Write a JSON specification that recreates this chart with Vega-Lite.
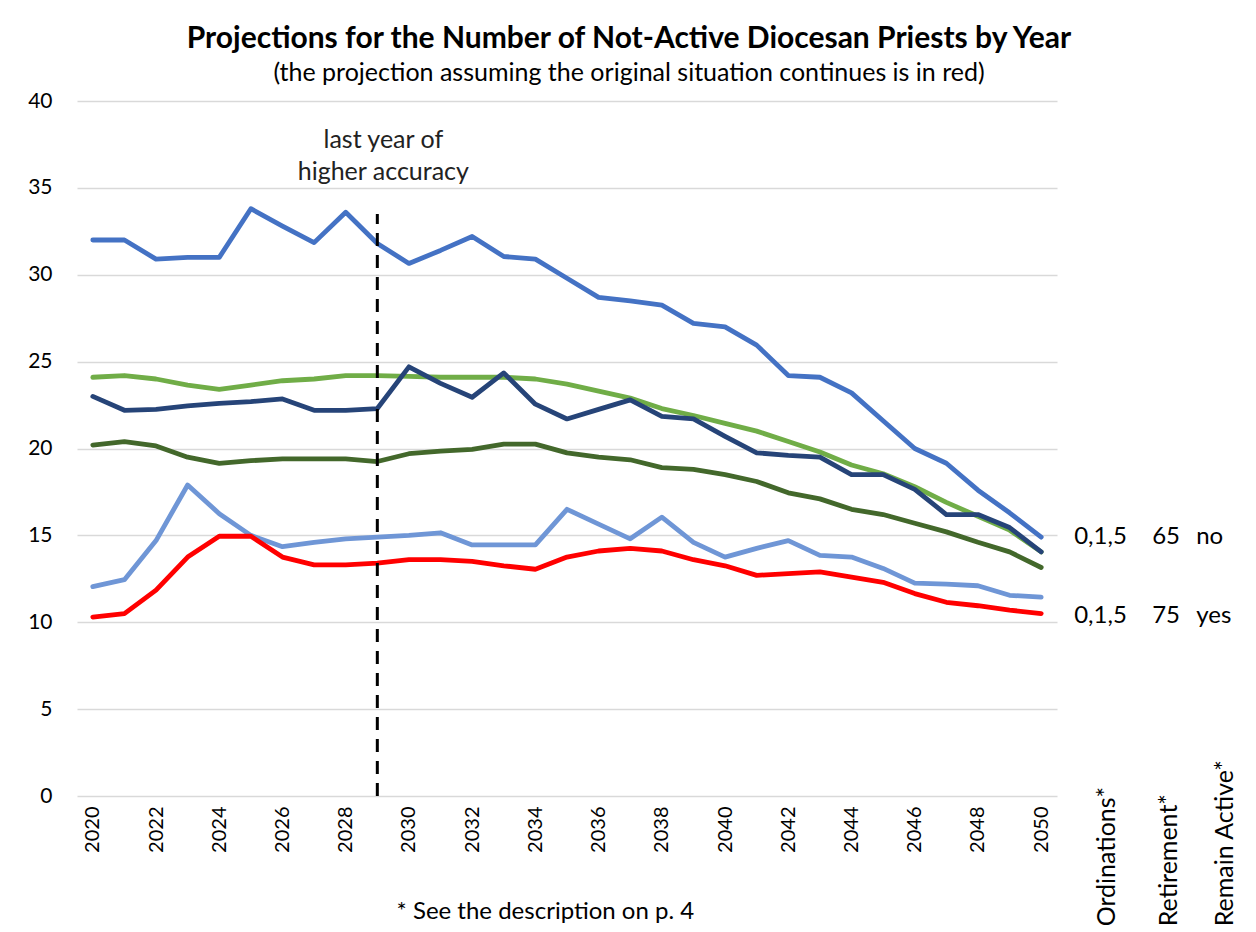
{
  "$schema": "https://vega.github.io/schema/vega-lite/v6.json",
  "autosize": "none",
  "width": 980,
  "height": 695,
  "padding": {"left": 77, "top": 101, "right": 199, "bottom": 136},
  "background": "white",
  "config": {
    "font": "Lato",
    "view": {"stroke": null},
    "title": {"font": "Lato", "color": "#000000"}
  },
  "title": {
    "text": "Projections for the Number of Not-Active Diocesan Priests by Year",
    "subtitle": "(the projection assuming the original situation continues is in red)",
    "anchor": "middle",
    "frame": "group",
    "dx": 62,
    "fontSize": 30,
    "fontWeight": "bold",
    "subtitleFontSize": 25,
    "subtitleColor": "#000000",
    "subtitleFont": "Lato",
    "subtitlePadding": 7,
    "offset": 4
  },
  "datasets": {
    "main": [
      {"year":2020,"series":"A","value":32.0},{"year":2021,"series":"A","value":32.0},{"year":2022,"series":"A","value":30.9},{"year":2023,"series":"A","value":31.0},{"year":2024,"series":"A","value":31.0},{"year":2025,"series":"A","value":33.8},{"year":2026,"series":"A","value":32.8},{"year":2027,"series":"A","value":31.85},{"year":2028,"series":"A","value":33.6},{"year":2029,"series":"A","value":31.8},{"year":2030,"series":"A","value":30.65},{"year":2031,"series":"A","value":31.4},{"year":2032,"series":"A","value":32.2},{"year":2033,"series":"A","value":31.05},{"year":2034,"series":"A","value":30.9},{"year":2035,"series":"A","value":29.8},{"year":2036,"series":"A","value":28.7},{"year":2037,"series":"A","value":28.5},{"year":2038,"series":"A","value":28.25},{"year":2039,"series":"A","value":27.2},{"year":2040,"series":"A","value":27.0},{"year":2041,"series":"A","value":25.95},{"year":2042,"series":"A","value":24.2},{"year":2043,"series":"A","value":24.1},{"year":2044,"series":"A","value":23.2},{"year":2045,"series":"A","value":21.6},{"year":2046,"series":"A","value":20.0},{"year":2047,"series":"A","value":19.15},{"year":2048,"series":"A","value":17.6},{"year":2049,"series":"A","value":16.3},{"year":2050,"series":"A","value":14.9},
      {"year":2020,"series":"B","value":24.1},{"year":2021,"series":"B","value":24.2},{"year":2022,"series":"B","value":24.0},{"year":2023,"series":"B","value":23.65},{"year":2024,"series":"B","value":23.4},{"year":2025,"series":"B","value":23.65},{"year":2026,"series":"B","value":23.9},{"year":2027,"series":"B","value":24.0},{"year":2028,"series":"B","value":24.2},{"year":2029,"series":"B","value":24.2},{"year":2030,"series":"B","value":24.15},{"year":2031,"series":"B","value":24.1},{"year":2032,"series":"B","value":24.1},{"year":2033,"series":"B","value":24.1},{"year":2034,"series":"B","value":24.0},{"year":2035,"series":"B","value":23.7},{"year":2036,"series":"B","value":23.3},{"year":2037,"series":"B","value":22.9},{"year":2038,"series":"B","value":22.3},{"year":2039,"series":"B","value":21.9},{"year":2040,"series":"B","value":21.45},{"year":2041,"series":"B","value":21.0},{"year":2042,"series":"B","value":20.4},{"year":2043,"series":"B","value":19.8},{"year":2044,"series":"B","value":19.05},{"year":2045,"series":"B","value":18.55},{"year":2046,"series":"B","value":17.8},{"year":2047,"series":"B","value":16.9},{"year":2048,"series":"B","value":16.1},{"year":2049,"series":"B","value":15.3},{"year":2050,"series":"B","value":14.05},
      {"year":2020,"series":"D","value":20.2},{"year":2021,"series":"D","value":20.4},{"year":2022,"series":"D","value":20.15},{"year":2023,"series":"D","value":19.5},{"year":2024,"series":"D","value":19.15},{"year":2025,"series":"D","value":19.3},{"year":2026,"series":"D","value":19.4},{"year":2027,"series":"D","value":19.4},{"year":2028,"series":"D","value":19.4},{"year":2029,"series":"D","value":19.25},{"year":2030,"series":"D","value":19.7},{"year":2031,"series":"D","value":19.85},{"year":2032,"series":"D","value":19.95},{"year":2033,"series":"D","value":20.25},{"year":2034,"series":"D","value":20.25},{"year":2035,"series":"D","value":19.75},{"year":2036,"series":"D","value":19.5},{"year":2037,"series":"D","value":19.35},{"year":2038,"series":"D","value":18.9},{"year":2039,"series":"D","value":18.8},{"year":2040,"series":"D","value":18.5},{"year":2041,"series":"D","value":18.1},{"year":2042,"series":"D","value":17.45},{"year":2043,"series":"D","value":17.1},{"year":2044,"series":"D","value":16.5},{"year":2045,"series":"D","value":16.2},{"year":2046,"series":"D","value":15.7},{"year":2047,"series":"D","value":15.2},{"year":2048,"series":"D","value":14.6},{"year":2049,"series":"D","value":14.05},{"year":2050,"series":"D","value":13.15},
      {"year":2020,"series":"E","value":12.05},{"year":2021,"series":"E","value":12.45},{"year":2022,"series":"E","value":14.7},{"year":2023,"series":"E","value":17.9},{"year":2024,"series":"E","value":16.25},{"year":2025,"series":"E","value":15.0},{"year":2026,"series":"E","value":14.35},{"year":2027,"series":"E","value":14.6},{"year":2028,"series":"E","value":14.8},{"year":2029,"series":"E","value":14.9},{"year":2030,"series":"E","value":15.0},{"year":2031,"series":"E","value":15.15},{"year":2032,"series":"E","value":14.45},{"year":2033,"series":"E","value":14.45},{"year":2034,"series":"E","value":14.45},{"year":2035,"series":"E","value":16.5},{"year":2036,"series":"E","value":15.65},{"year":2037,"series":"E","value":14.8},{"year":2038,"series":"E","value":16.05},{"year":2039,"series":"E","value":14.6},{"year":2040,"series":"E","value":13.75},{"year":2041,"series":"E","value":14.25},{"year":2042,"series":"E","value":14.7},{"year":2043,"series":"E","value":13.85},{"year":2044,"series":"E","value":13.75},{"year":2045,"series":"E","value":13.1},{"year":2046,"series":"E","value":12.25},{"year":2047,"series":"E","value":12.2},{"year":2048,"series":"E","value":12.1},{"year":2049,"series":"E","value":11.55},{"year":2050,"series":"E","value":11.45},
      {"year":2020,"series":"C","value":23.0},{"year":2021,"series":"C","value":22.2},{"year":2022,"series":"C","value":22.25},{"year":2023,"series":"C","value":22.45},{"year":2024,"series":"C","value":22.6},{"year":2025,"series":"C","value":22.7},{"year":2026,"series":"C","value":22.85},{"year":2027,"series":"C","value":22.2},{"year":2028,"series":"C","value":22.2},{"year":2029,"series":"C","value":22.3},{"year":2030,"series":"C","value":24.7},{"year":2031,"series":"C","value":23.75},{"year":2032,"series":"C","value":22.95},{"year":2033,"series":"C","value":24.35},{"year":2034,"series":"C","value":22.55},{"year":2035,"series":"C","value":21.7},{"year":2036,"series":"C","value":22.25},{"year":2037,"series":"C","value":22.8},{"year":2038,"series":"C","value":21.85},{"year":2039,"series":"C","value":21.7},{"year":2040,"series":"C","value":20.7},{"year":2041,"series":"C","value":19.75},{"year":2042,"series":"C","value":19.6},{"year":2043,"series":"C","value":19.5},{"year":2044,"series":"C","value":18.5},{"year":2045,"series":"C","value":18.5},{"year":2046,"series":"C","value":17.65},{"year":2047,"series":"C","value":16.2},{"year":2048,"series":"C","value":16.2},{"year":2049,"series":"C","value":15.45},{"year":2050,"series":"C","value":14.05},
      {"year":2020,"series":"F","value":10.3},{"year":2021,"series":"F","value":10.5},{"year":2022,"series":"F","value":11.85},{"year":2023,"series":"F","value":13.75},{"year":2024,"series":"F","value":14.95},{"year":2025,"series":"F","value":14.95},{"year":2026,"series":"F","value":13.75},{"year":2027,"series":"F","value":13.3},{"year":2028,"series":"F","value":13.3},{"year":2029,"series":"F","value":13.4},{"year":2030,"series":"F","value":13.6},{"year":2031,"series":"F","value":13.6},{"year":2032,"series":"F","value":13.5},{"year":2033,"series":"F","value":13.25},{"year":2034,"series":"F","value":13.05},{"year":2035,"series":"F","value":13.75},{"year":2036,"series":"F","value":14.1},{"year":2037,"series":"F","value":14.25},{"year":2038,"series":"F","value":14.1},{"year":2039,"series":"F","value":13.6},{"year":2040,"series":"F","value":13.25},{"year":2041,"series":"F","value":12.7},{"year":2042,"series":"F","value":12.8},{"year":2043,"series":"F","value":12.9},{"year":2044,"series":"F","value":12.6},{"year":2045,"series":"F","value":12.3},{"year":2046,"series":"F","value":11.65},{"year":2047,"series":"F","value":11.15},{"year":2048,"series":"F","value":10.95},{"year":2049,"series":"F","value":10.7},{"year":2050,"series":"F","value":10.5}
    ],
    "marker": [{"year": 2029, "y0": 0, "y1": 33.5}],
    "note": [
      {"year": 2029, "value": 37.75, "text": "last year of"},
      {"year": 2029, "value": 35.9, "text": "higher accuracy"}
    ],
    "endlabels": [
      {"year": 2050, "value": 14.9, "col": 1, "text": "0,1,5"},
      {"year": 2050, "value": 14.9, "col": 2, "text": "65"},
      {"year": 2050, "value": 14.9, "col": 3, "text": "no"},
      {"year": 2050, "value": 10.35, "col": 1, "text": "0,1,5"},
      {"year": 2050, "value": 10.35, "col": 2, "text": "75"},
      {"year": 2050, "value": 10.35, "col": 3, "text": "yes"}
    ],
    "headers": [
      {"year": 2050, "value": -7.5, "col": 1, "text": "Ordinations*"},
      {"year": 2050, "value": -7.5, "col": 2, "text": "Retirement*"},
      {"year": 2050, "value": -7.5, "col": 3, "text": "Remain Active*"}
    ],
    "foot": [{"year": 2034, "value": -6.7, "text": "* See the description on p. 4"}]
  },
  "encoding": {
    "x": {
      "field": "year",
      "type": "ordinal",
      "scale": {"type": "point", "domain": [2020,2021,2022,2023,2024,2025,2026,2027,2028,2029,2030,2031,2032,2033,2034,2035,2036,2037,2038,2039,2040,2041,2042,2043,2044,2045,2046,2047,2048,2049,2050], "padding": 0.5},
      "axis": {
        "values": [2020,2022,2024,2026,2028,2030,2032,2034,2036,2038,2040,2042,2044,2046,2048,2050],
        "labelAngle": -90,
        "labelFontSize": 20,
        "labelColor": "#000000",
        "labelPadding": 10,
        "labelBaseline": "middle",
        "ticks": false,
        "domain": false,
        "grid": false,
        "title": null
      }
    },
    "y": {
      "field": "value",
      "type": "quantitative",
      "scale": {"domain": [0, 40], "nice": false, "zero": true},
      "axis": {
        "values": [0,5,10,15,20,25,30,35,40],
        "labelFontSize": 21,
        "labelColor": "#000000",
        "labelPadding": 25,
        "ticks": false,
        "domain": false,
        "grid": true,
        "gridColor": "#D9D9D9",
        "gridWidth": 1.6,
        "title": null
      }
    }
  },
  "layer": [
    {
      "data": {"name": "main"},
      "mark": {"type": "line", "strokeWidth": 4.8, "strokeJoin": "round", "strokeCap": "round"},
      "encoding": {
        "color": {
          "field": "series",
          "type": "nominal",
          "scale": {"domain": ["A","B","D","E","C","F"], "range": ["#4472C4","#70AD47","#43682B","#6F96D6","#264478","#FF0000"]},
          "legend": null
        },
        "order": {"field": "year", "type": "ordinal"}
      }
    },
    {
      "data": {"name": "marker"},
      "mark": {"type": "rule", "color": "#000000", "strokeWidth": 3, "strokeDash": [13, 9]},
      "encoding": {
        "y": {"field": "y0", "type": "quantitative"},
        "y2": {"field": "y1"}
      }
    },
    {
      "data": {"name": "note"},
      "mark": {"type": "text", "fontSize": 25, "color": "#222222", "dx": 6, "align": "center", "baseline": "middle"},
      "encoding": {"text": {"field": "text"}}
    },
    {
      "data": {"name": "endlabels"},
      "transform": [{"filter": "datum.col == 1"}],
      "mark": {"type": "text", "fontSize": 24, "color": "#000000", "dx": 33, "align": "left", "baseline": "middle"},
      "encoding": {"text": {"field": "text"}}
    },
    {
      "data": {"name": "endlabels"},
      "transform": [{"filter": "datum.col == 2"}],
      "mark": {"type": "text", "fontSize": 24, "color": "#000000", "dx": 111, "align": "left", "baseline": "middle"},
      "encoding": {"text": {"field": "text"}}
    },
    {
      "data": {"name": "endlabels"},
      "transform": [{"filter": "datum.col == 3"}],
      "mark": {"type": "text", "fontSize": 24, "color": "#000000", "dx": 155, "align": "left", "baseline": "middle"},
      "encoding": {"text": {"field": "text"}}
    },
    {
      "data": {"name": "headers"},
      "transform": [{"filter": "datum.col == 1"}],
      "mark": {"type": "text", "fontSize": 25, "color": "#000000", "angle": 270, "dy": 66, "align": "left", "baseline": "middle", "clip": false},
      "encoding": {"text": {"field": "text"}}
    },
    {
      "data": {"name": "headers"},
      "transform": [{"filter": "datum.col == 2"}],
      "mark": {"type": "text", "fontSize": 25, "color": "#000000", "angle": 270, "dy": 128, "align": "left", "baseline": "middle", "clip": false},
      "encoding": {"text": {"field": "text"}}
    },
    {
      "data": {"name": "headers"},
      "transform": [{"filter": "datum.col == 3"}],
      "mark": {"type": "text", "fontSize": 25, "color": "#000000", "angle": 270, "dy": 184, "align": "left", "baseline": "middle", "clip": false},
      "encoding": {"text": {"field": "text"}}
    },
    {
      "data": {"name": "foot"},
      "mark": {"type": "text", "fontSize": 24, "color": "#000000", "dx": 10, "align": "center", "baseline": "middle", "clip": false},
      "encoding": {"text": {"field": "text"}}
    }
  ]
}
